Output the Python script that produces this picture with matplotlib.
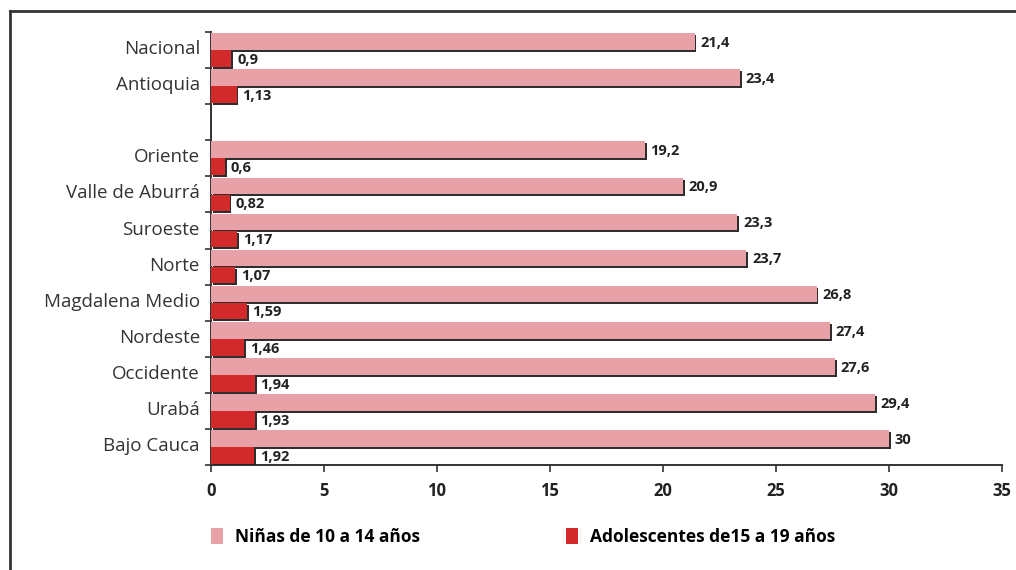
import numpy as np
import matplotlib.pyplot as plt
import matplotlib.patheffects as pe
from matplotlib.patches import Patch
from matplotlib.lines import Line2D

plt.rcParams['font.family'] = ['Open Sans', 'DejaVu Sans']

# data (top to bottom), '' = blank row between groups
regiones = ['Nacional', 'Antioquia', '', 'Oriente', 'Valle de Aburrá', 'Suroeste',
            'Norte', 'Magdalena Medio', 'Nordeste', 'Occidente', 'Urabá', 'Bajo Cauca']
ninas = [21.4, 23.4, None, 19.2, 20.9, 23.3, 23.7, 26.8, 27.4, 27.6, 29.4, 30]
adolescentes = [0.9, 1.13, None, 0.6, 0.82, 1.17, 1.07, 1.59, 1.46, 1.94, 1.93, 1.92]
lab_ninas = ['21,4', '23,4', '', '19,2', '20,9', '23,3', '23,7', '26,8', '27,4', '27,6', '29,4', '30']
lab_adol = ['0,9', '1,13', '', '0,6', '0,82', '1,17', '1,07', '1,59', '1,46', '1,94', '1,93', '1,92']

rosa = '#E8A2A7'
rojo = '#D22A2A'

fig = plt.figure(figsize=(10.16, 5.70), dpi=100)
ax = fig.add_axes([0.2077, 0.184, 0.7783, 0.760])

idx = [i for i, v in enumerate(ninas) if v is not None]
y = np.array(idx, dtype=float)
v1 = [ninas[i] for i in idx]
v2 = [adolescentes[i] for i in idx]

sombra = [pe.SimplePatchShadow(offset=(1.4, -1.4), shadow_rgbFace='#222222', alpha=0.95), pe.Normal()]
h = 0.46
b1 = ax.barh(y - 0.235, v1, height=h, color=rosa, path_effects=sombra, zorder=3)
b2 = ax.barh(y + 0.235, v2, height=h, color=rojo, path_effects=sombra, zorder=3)

for i in idx:
    ax.text(ninas[i] + 0.25, i - 0.2, lab_ninas[i], va='center', ha='left',
            fontsize=10.5, fontweight='bold', color='#222222')
    ax.text(adolescentes[i] + 0.25, i + 0.27, lab_adol[i], va='center', ha='left',
            fontsize=10.5, fontweight='bold', color='#222222')

ax.set_xlim(0, 35)
ax.set_ylim(11.5, -0.5)
ax.set_xticks(range(0, 36, 5))
ax.set_xticklabels([str(t) for t in range(0, 36, 5)], fontsize=12, fontweight='bold', color='#222222')
ax.set_yticks(np.arange(len(regiones)) - 0.08)
ax.set_yticklabels(regiones, fontsize=13.5, color='#333333')
ax.set_yticks(np.arange(-0.5, 12, 1), minor=True)
ax.tick_params(axis='y', which='major', length=0, pad=8)
ax.tick_params(axis='y', which='minor', length=4, width=1.2, color='#333333')
ax.tick_params(axis='x', length=5, width=1.2, color='#333333', pad=7)
for s in ['top', 'right']:
    ax.spines[s].set_visible(False)
for s in ['left', 'bottom']:
    ax.spines[s].set_color('#333333')
    ax.spines[s].set_linewidth(1.4)

handles = [Patch(facecolor=rosa, edgecolor='none'), Patch(facecolor=rojo, edgecolor='none')]
fig.legend(handles, ['Niñas de 10 a 14 años', 'Adolescentes de15 a 19 años'],
           loc='center left', bbox_to_anchor=(0.192, 0.058), ncol=2, frameon=False,
           columnspacing=8.4, handlelength=0.7, handleheight=1.0, handletextpad=0.7,
           prop={'size': 12.5, 'weight': 'bold'})

# outer frame (only top and left visible)
fig.add_artist(Line2D([0.0098, 1.0], [0.9807, 0.9807], color='#333333', lw=2))
fig.add_artist(Line2D([0.0098, 0.0098], [0.0, 0.9807], color='#333333', lw=2))

fig.savefig('out.png', dpi=100)
